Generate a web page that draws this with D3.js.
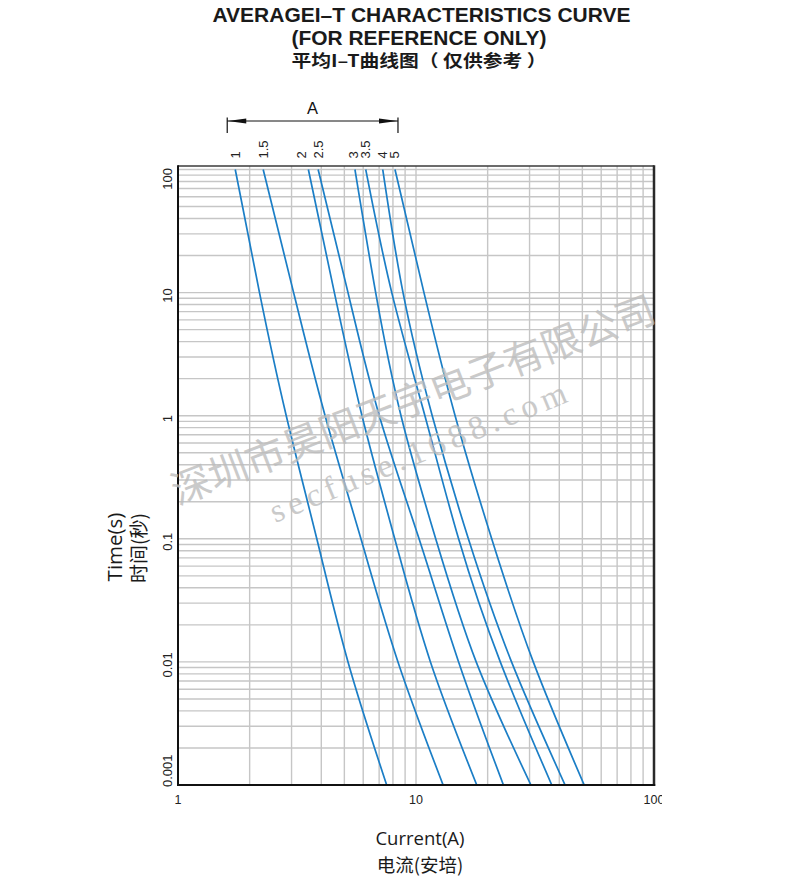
<!DOCTYPE html>
<html><head><meta charset="utf-8">
<script src="https://cdn.jsdelivr.net/npm/d3@7/dist/d3.min.js"></script>
<style>body{margin:0;background:#fff}</style>
</head><body>
<svg id="c" width="800" height="886"></svg>
<script>
// ---------- data ----------
const ratings = ["1", "1.5", "2", "2.5", "3", "3.5", "4", "5"];
const times = [100, 10, 1, 0.1, 0.01, 0.001];
const curve1   = [1.74, 2.20, 2.85, 3.83, 5.18, 7.53];
const curve1_5 = [2.28, 3.06, 4.15, 5.87, 8.40, 13.0];
const curve2   = [3.53, 4.54, 5.93, 8.14, 11.5, 18.0];
const curve2_5 = [3.88, 5.18, 7.01, 10.3, 15.1, 23.3];
const curve3   = [5.54, 6.77, 8.65, 12.1, 17.9, 30.4];
const curve3_5 = [6.15, 7.91, 10.9, 15.1, 22.6, 37.2];
const curve4   = [7.25, 8.82, 11.7, 16.6, 25.2, 42.3];
const curve5   = [8.16, 10.8, 14.6, 20.8, 31.1, 50.9];
const curves = [curve1, curve1_5, curve2, curve2_5, curve3, curve3_5, curve4, curve5];
const labelCurrents = [1.75, 2.28, 3.31, 3.88, 5.44, 6.15, 7.22, 8.16];
const bracketRange = [1.61, 8.4];
const xTicks = [1, 10, 100];
const xTickLabels = ["1", "10", "100"];
const yTicks = [100, 10, 1, 0.1, 0.01, 0.001];
const yTickLabels = ["100", "10", "1", "0.1", "0.01", "0.001"];
const titleLines = ["AVERAGEI\u2013T CHARACTERISTICS CURVE", "(FOR REFERENCE ONLY)", "平均I\u2013T曲线图\uFF08 仅供参考 \uFF09"];
const watermarkCN = "深圳市昊阳天宇电子有限公司";
const watermarkURL = "secfuse.1688.com";

// ---------- layout ----------
const svg = d3.select("#c");
const x = d3.scaleLog().domain([1, 100]).range([178, 654]);
const y = d3.scaleLog().domain([0.001, 100]).range([785, 169.5]);
const frameTop = y(100) - 3.5;
const blue = "#1b7ec6";
const grid = "#c6c6c6";

svg.append("defs").append("clipPath").attr("id", "plot")
  .append("rect").attr("x", x(1)).attr("y", frameTop).attr("width", x(100) - x(1)).attr("height", y(0.001) - frameTop);
svg.select("defs").append("clipPath").attr("id", "xlab")
  .append("rect").attr("x", 0).attr("y", 780).attr("width", 662).attr("height", 40);

// grid values
const xGrid = [], yGrid = [];
[1, 10].forEach(d => { for (let k = 2; k <= 9; k++) xGrid.push(d * k); });
xGrid.push(10);
[0.001, 0.01, 0.1, 1, 10].forEach(d => { for (let k = 1; k <= 9; k++) yGrid.push(d * k); });
yGrid.push(100);

const g = svg.append("g");
g.selectAll(".vg").data(xGrid).join("line")
  .attr("x1", d => x(d)).attr("x2", d => x(d)).attr("y1", frameTop).attr("y2", y(0.001))
  .attr("stroke", grid).attr("stroke-width", 1.4);
g.selectAll(".hg").data(yGrid).join("line")
  .attr("x1", x(1)).attr("x2", x(100)).attr("y1", d => y(d)).attr("y2", d => y(d))
  .attr("stroke", grid).attr("stroke-width", 1.4);

// curves
const line = d3.line().x(d => x(d[0])).y(d => y(d[1])).curve(d3.curveNatural);
svg.append("g").attr("clip-path", "url(#plot)")
  .selectAll("path").data(curves).join("path")
  .attr("d", c => line(c.map((v, i) => [v, times[i]])))
  .attr("fill", "none").attr("stroke", blue).attr("stroke-width", 1.7);

// frame
svg.append("line").attr("x1", x(1)).attr("x2", x(100)).attr("y1", frameTop).attr("y2", frameTop)
  .attr("stroke", "#3a3a3a").attr("stroke-width", 1.5);
svg.append("line").attr("x1", x(100)).attr("x2", x(100)).attr("y1", frameTop - 0.7).attr("y2", y(0.001) + 1)
  .attr("stroke", "#2a2a2a").attr("stroke-width", 2.5);
svg.append("line").attr("x1", x(1)).attr("x2", x(1)).attr("y1", frameTop - 0.7).attr("y2", y(0.001) + 1)
  .attr("stroke", "#111").attr("stroke-width", 2);
svg.append("line").attr("x1", x(1) - 1).attr("x2", x(100) + 1.2).attr("y1", y(0.001)).attr("y2", y(0.001))
  .attr("stroke", "#111").attr("stroke-width", 2);

// x tick labels
svg.append("g").attr("clip-path", "url(#xlab)")
  .selectAll("text").data(xTicks).join("text")
  .attr("x", d => x(d)).attr("y", 803.5).attr("text-anchor", "middle")
  .attr("font-family", "'Liberation Sans', Arial, sans-serif").attr("font-size", 12.5).attr("fill", "#222")
  .text((d, i) => xTickLabels[i]);

// y tick labels (rotated)
svg.append("g").selectAll("text").data(yTicks).join("text")
  .attr("transform", d => `translate(172,${y(d)}) rotate(-90)`)
  .attr("text-anchor", (d, i) => i === 0 ? "end" : (i === yTicks.length - 1 ? "start" : "middle"))
  .attr("dx", (d, i) => i === 0 ? 1.5 : (i === yTicks.length - 1 ? -2 : -3))
  .attr("font-family", "'Liberation Sans', Arial, sans-serif").attr("font-size", 13).attr("fill", "#222")
  .text((d, i) => yTickLabels[i]);

// rating labels
svg.append("g").selectAll("text").data(labelCurrents).join("text")
  .attr("transform", d => `translate(${x(d) + 4.5},158.5) rotate(-90)`)
  .attr("text-anchor", "start")
  .attr("font-family", "'Liberation Sans', Arial, sans-serif").attr("font-size", 13).attr("fill", "#222")
  .text((d, i) => ratings[i]);

// bracket "A"
const bx0 = x(bracketRange[0]), bx1 = x(bracketRange[1]), by = 121;
svg.append("line").attr("x1", bx0).attr("x2", bx1).attr("y1", by).attr("y2", by).attr("stroke", "#111").attr("stroke-width", 1);
[bx0, bx1].forEach(bx => svg.append("line").attr("x1", bx).attr("x2", bx).attr("y1", 117.5).attr("y2", 133)
  .attr("stroke", "#111").attr("stroke-width", 1.2));
svg.append("path").attr("d", `M${bx0 + 0.5},${by} L${bx0 + 19},${by - 2.6} L${bx0 + 19},${by + 2.6} Z`).attr("fill", "#111");
svg.append("path").attr("d", `M${bx1 - 0.5},${by} L${bx1 - 19},${by - 2.6} L${bx1 - 19},${by + 2.6} Z`).attr("fill", "#111");
svg.append("text").attr("x", 312.5).attr("y", 113.5).attr("text-anchor", "middle")
  .attr("font-family", "'Liberation Sans', Arial, sans-serif").attr("font-size", 16.5).attr("fill", "#111").text("A");

// titles
svg.append("text").attr("x", 421.5).attr("y", 22).attr("text-anchor", "middle")
  .attr("font-family", "'Liberation Sans', Arial, sans-serif").attr("font-weight", "bold").attr("font-size", 19.5)
  .attr("textLength", 418).attr("lengthAdjust", "spacingAndGlyphs").attr("fill", "#1a1a1a").text(titleLines[0]);
svg.append("text").attr("x", 419).attr("y", 45.3).attr("text-anchor", "middle")
  .attr("font-family", "'Liberation Sans', Arial, sans-serif").attr("font-weight", "bold").attr("font-size", 19.5)
  .attr("textLength", 255).attr("lengthAdjust", "spacingAndGlyphs").attr("fill", "#1a1a1a").text(titleLines[1]);
svg.append("text").attr("x", 419).attr("y", 67).attr("text-anchor", "middle")
  .attr("font-family", "'Noto Sans CJK SC', sans-serif").attr("font-weight", "bold").attr("font-size", 17)
  .attr("textLength", 255).attr("lengthAdjust", "spacingAndGlyphs").attr("fill", "#1a1a1a").text(titleLines[2]);

// axis titles
svg.append("text").attr("transform", "translate(122,547) rotate(-90)").attr("text-anchor", "middle")
  .attr("font-family", "'Open Sans', 'Noto Sans', sans-serif").attr("font-size", 20.5).attr("fill", "#1a1a1a").text("Time(s)");
svg.append("text").attr("transform", "translate(146,548) rotate(-90)").attr("text-anchor", "middle")
  .attr("font-family", "'Noto Sans CJK SC', sans-serif").attr("font-size", 19).attr("fill", "#1a1a1a").text("时间(秒)");
svg.append("text").attr("x", 420).attr("y", 845).attr("text-anchor", "middle")
  .attr("font-family", "'Open Sans', 'Noto Sans', sans-serif").attr("font-size", 18.5).attr("fill", "#1a1a1a").text("Current(A)");
svg.append("text").attr("x", 420).attr("y", 872).attr("text-anchor", "middle")
  .attr("font-family", "'Noto Sans CJK SC', sans-serif").attr("font-size", 18.5).attr("fill", "#1a1a1a").text("电流(安培)");

// watermark
svg.append("text").attr("transform", "translate(412,397) rotate(-21)")
  .attr("text-anchor", "middle").attr("dominant-baseline", "central")
  .attr("font-family", "'Noto Sans CJK SC', sans-serif").attr("font-size", 39)
  .attr("textLength", 515).attr("lengthAdjust", "spacingAndGlyphs")
  .attr("fill", "#bdbdbd").attr("opacity", 0.8).text(watermarkCN);
svg.append("text").attr("transform", "translate(418,452) rotate(-22.5)")
  .attr("text-anchor", "middle").attr("dominant-baseline", "central")
  .attr("font-family", "'Liberation Serif', 'DejaVu Serif', serif").attr("font-size", 33)
  .attr("textLength", 318).attr("lengthAdjust", "spacing")
  .attr("fill", "#bdbdbd").attr("opacity", 0.8).text(watermarkURL);
</script>
</body></html>
